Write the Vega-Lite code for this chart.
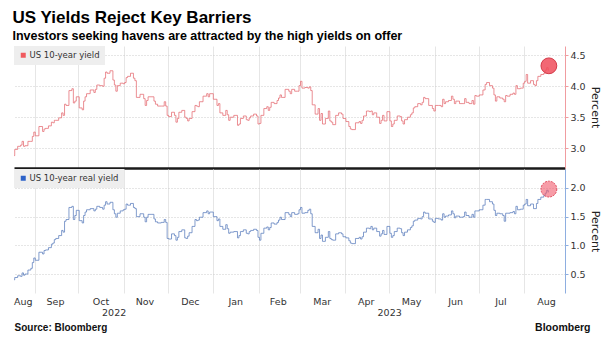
{
  "$schema": "https://vega.github.io/schema/vega-lite/v6.json",
  "background": "white",
  "padding": {"top": 8, "left": 12, "right": 0, "bottom": 0},
  "title": {
    "text": "US Yields Reject Key Barriers",
    "subtitle": "Investors seeking havens are attracted by the high yields on offer",
    "anchor": "start",
    "font": "Liberation Sans",
    "fontSize": 17,
    "fontWeight": "bold",
    "color": "#000000",
    "subtitleFont": "Liberation Sans",
    "subtitleFontSize": 12.5,
    "subtitleFontWeight": "bold",
    "subtitleColor": "#000000",
    "subtitlePadding": 3,
    "offset": 3
  },
  "datasets": {
    "last": [{"d": "2023/08/18", "y": 4.33, "r": 1.98}],
    "yields": [
      {"d":"2022/08/18","y":2.88,"r":0.40},{"d":"2022/08/19","y":2.98,"r":0.44},{"d":"2022/08/22","y":3.03,"r":0.47},{"d":"2022/08/23","y":3.05,"r":0.46},{"d":"2022/08/24","y":3.11,"r":0.52},{"d":"2022/08/25","y":3.03,"r":0.48},{"d":"2022/08/26","y":3.04,"r":0.50},{"d":"2022/08/29","y":3.11,"r":0.57},{"d":"2022/08/30","y":3.11,"r":0.60},{"d":"2022/08/31","y":3.19,"r":0.70},
      {"d":"2022/09/01","y":3.26,"r":0.78},{"d":"2022/09/02","y":3.20,"r":0.74},{"d":"2022/09/06","y":3.35,"r":0.88},{"d":"2022/09/07","y":3.27,"r":0.85},{"d":"2022/09/08","y":3.31,"r":0.91},{"d":"2022/09/09","y":3.32,"r":0.92},{"d":"2022/09/12","y":3.36,"r":0.96},{"d":"2022/09/13","y":3.42,"r":1.02},{"d":"2022/09/14","y":3.41,"r":1.04},{"d":"2022/09/15","y":3.45,"r":1.10},{"d":"2022/09/16","y":3.45,"r":1.12},{"d":"2022/09/19","y":3.49,"r":1.17},{"d":"2022/09/20","y":3.57,"r":1.26},{"d":"2022/09/21","y":3.53,"r":1.23},{"d":"2022/09/22","y":3.71,"r":1.42},{"d":"2022/09/23","y":3.69,"r":1.45},{"d":"2022/09/26","y":3.93,"r":1.66},{"d":"2022/09/27","y":3.96,"r":1.68},{"d":"2022/09/28","y":3.73,"r":1.45},{"d":"2022/09/29","y":3.76,"r":1.52},{"d":"2022/09/30","y":3.83,"r":1.61},
      {"d":"2022/10/03","y":3.65,"r":1.43},{"d":"2022/10/04","y":3.62,"r":1.39},{"d":"2022/10/05","y":3.76,"r":1.52},{"d":"2022/10/06","y":3.83,"r":1.58},{"d":"2022/10/07","y":3.88,"r":1.62},{"d":"2022/10/11","y":3.94,"r":1.64},{"d":"2022/10/12","y":3.90,"r":1.60},{"d":"2022/10/13","y":3.95,"r":1.63},{"d":"2022/10/14","y":4.02,"r":1.68},{"d":"2022/10/17","y":4.01,"r":1.66},{"d":"2022/10/18","y":4.00,"r":1.63},{"d":"2022/10/19","y":4.13,"r":1.70},{"d":"2022/10/20","y":4.23,"r":1.76},{"d":"2022/10/21","y":4.21,"r":1.72},{"d":"2022/10/24","y":4.25,"r":1.75},{"d":"2022/10/25","y":4.10,"r":1.62},{"d":"2022/10/26","y":4.02,"r":1.55},{"d":"2022/10/27","y":3.92,"r":1.49},{"d":"2022/10/28","y":4.01,"r":1.56},{"d":"2022/10/31","y":4.05,"r":1.60},
      {"d":"2022/11/01","y":4.04,"r":1.62},{"d":"2022/11/02","y":4.06,"r":1.63},{"d":"2022/11/03","y":4.14,"r":1.72},{"d":"2022/11/04","y":4.16,"r":1.70},{"d":"2022/11/07","y":4.21,"r":1.73},{"d":"2022/11/08","y":4.13,"r":1.66},{"d":"2022/11/09","y":4.09,"r":1.64},{"d":"2022/11/10","y":3.82,"r":1.50},{"d":"2022/11/14","y":3.87,"r":1.55},{"d":"2022/11/15","y":3.80,"r":1.49},{"d":"2022/11/16","y":3.69,"r":1.41},{"d":"2022/11/17","y":3.77,"r":1.49},{"d":"2022/11/18","y":3.83,"r":1.54},{"d":"2022/11/21","y":3.83,"r":1.54},{"d":"2022/11/22","y":3.76,"r":1.46},{"d":"2022/11/23","y":3.71,"r":1.41},{"d":"2022/11/25","y":3.68,"r":1.39},{"d":"2022/11/28","y":3.68,"r":1.40},{"d":"2022/11/29","y":3.75,"r":1.45},{"d":"2022/11/30","y":3.68,"r":1.40},
      {"d":"2022/12/01","y":3.53,"r":1.12},{"d":"2022/12/02","y":3.51,"r":1.11},{"d":"2022/12/05","y":3.58,"r":1.20},{"d":"2022/12/06","y":3.53,"r":1.17},{"d":"2022/12/07","y":3.42,"r":1.09},{"d":"2022/12/08","y":3.48,"r":1.14},{"d":"2022/12/09","y":3.58,"r":1.24},{"d":"2022/12/12","y":3.61,"r":1.27},{"d":"2022/12/13","y":3.50,"r":1.13},{"d":"2022/12/14","y":3.48,"r":1.12},{"d":"2022/12/15","y":3.44,"r":1.16},{"d":"2022/12/16","y":3.48,"r":1.22},{"d":"2022/12/19","y":3.59,"r":1.33},{"d":"2022/12/20","y":3.69,"r":1.45},{"d":"2022/12/21","y":3.68,"r":1.43},{"d":"2022/12/22","y":3.67,"r":1.44},{"d":"2022/12/23","y":3.75,"r":1.49},{"d":"2022/12/27","y":3.84,"r":1.57},{"d":"2022/12/28","y":3.88,"r":1.60},{"d":"2022/12/29","y":3.83,"r":1.55},{"d":"2022/12/30","y":3.88,"r":1.58},
      {"d":"2023/01/03","y":3.79,"r":1.50},{"d":"2023/01/04","y":3.69,"r":1.43},{"d":"2023/01/05","y":3.72,"r":1.46},{"d":"2023/01/06","y":3.57,"r":1.33},{"d":"2023/01/09","y":3.53,"r":1.28},{"d":"2023/01/10","y":3.61,"r":1.36},{"d":"2023/01/11","y":3.54,"r":1.29},{"d":"2023/01/12","y":3.45,"r":1.21},{"d":"2023/01/13","y":3.50,"r":1.23},{"d":"2023/01/17","y":3.53,"r":1.24},{"d":"2023/01/18","y":3.37,"r":1.13},{"d":"2023/01/19","y":3.39,"r":1.17},{"d":"2023/01/20","y":3.48,"r":1.24},{"d":"2023/01/23","y":3.52,"r":1.27},{"d":"2023/01/24","y":3.46,"r":1.21},{"d":"2023/01/25","y":3.45,"r":1.20},{"d":"2023/01/26","y":3.49,"r":1.24},{"d":"2023/01/27","y":3.52,"r":1.26},{"d":"2023/01/30","y":3.55,"r":1.28},{"d":"2023/01/31","y":3.52,"r":1.26},
      {"d":"2023/02/01","y":3.39,"r":1.14},{"d":"2023/02/02","y":3.40,"r":1.09},{"d":"2023/02/03","y":3.53,"r":1.21},{"d":"2023/02/06","y":3.64,"r":1.30},{"d":"2023/02/07","y":3.67,"r":1.32},{"d":"2023/02/08","y":3.61,"r":1.27},{"d":"2023/02/09","y":3.66,"r":1.31},{"d":"2023/02/10","y":3.74,"r":1.39},{"d":"2023/02/13","y":3.72,"r":1.37},{"d":"2023/02/14","y":3.77,"r":1.40},{"d":"2023/02/15","y":3.81,"r":1.44},{"d":"2023/02/16","y":3.86,"r":1.49},{"d":"2023/02/17","y":3.82,"r":1.45},{"d":"2023/02/21","y":3.95,"r":1.57},{"d":"2023/02/22","y":3.92,"r":1.54},{"d":"2023/02/23","y":3.88,"r":1.50},{"d":"2023/02/24","y":3.95,"r":1.57},{"d":"2023/02/27","y":3.92,"r":1.54},{"d":"2023/02/28","y":3.92,"r":1.55},
      {"d":"2023/03/01","y":4.01,"r":1.62},{"d":"2023/03/02","y":4.08,"r":1.66},{"d":"2023/03/03","y":3.97,"r":1.56},{"d":"2023/03/06","y":3.98,"r":1.57},{"d":"2023/03/07","y":3.97,"r":1.61},{"d":"2023/03/08","y":3.99,"r":1.63},{"d":"2023/03/09","y":3.93,"r":1.55},{"d":"2023/03/10","y":3.70,"r":1.33},{"d":"2023/03/13","y":3.55,"r":1.22},{"d":"2023/03/14","y":3.64,"r":1.28},{"d":"2023/03/15","y":3.45,"r":1.12},{"d":"2023/03/16","y":3.56,"r":1.18},{"d":"2023/03/17","y":3.39,"r":1.07},{"d":"2023/03/20","y":3.48,"r":1.14},{"d":"2023/03/21","y":3.60,"r":1.24},{"d":"2023/03/22","y":3.44,"r":1.12},{"d":"2023/03/23","y":3.42,"r":1.10},{"d":"2023/03/24","y":3.38,"r":1.09},{"d":"2023/03/27","y":3.53,"r":1.20},{"d":"2023/03/28","y":3.57,"r":1.22},{"d":"2023/03/29","y":3.57,"r":1.22},{"d":"2023/03/30","y":3.55,"r":1.20},{"d":"2023/03/31","y":3.48,"r":1.15},
      {"d":"2023/04/03","y":3.43,"r":1.13},{"d":"2023/04/04","y":3.35,"r":1.08},{"d":"2023/04/05","y":3.31,"r":1.04},{"d":"2023/04/06","y":3.30,"r":1.03},{"d":"2023/04/10","y":3.41,"r":1.12},{"d":"2023/04/11","y":3.43,"r":1.14},{"d":"2023/04/12","y":3.40,"r":1.11},{"d":"2023/04/13","y":3.45,"r":1.15},{"d":"2023/04/14","y":3.52,"r":1.23},{"d":"2023/04/17","y":3.60,"r":1.30},{"d":"2023/04/18","y":3.59,"r":1.29},{"d":"2023/04/19","y":3.60,"r":1.33},{"d":"2023/04/20","y":3.54,"r":1.27},{"d":"2023/04/21","y":3.57,"r":1.30},{"d":"2023/04/24","y":3.50,"r":1.24},{"d":"2023/04/25","y":3.40,"r":1.16},{"d":"2023/04/26","y":3.45,"r":1.20},{"d":"2023/04/27","y":3.53,"r":1.26},{"d":"2023/04/28","y":3.44,"r":1.19},
      {"d":"2023/05/01","y":3.59,"r":1.33},{"d":"2023/05/02","y":3.44,"r":1.21},{"d":"2023/05/03","y":3.35,"r":1.14},{"d":"2023/05/04","y":3.39,"r":1.17},{"d":"2023/05/05","y":3.45,"r":1.24},{"d":"2023/05/08","y":3.52,"r":1.30},{"d":"2023/05/09","y":3.51,"r":1.29},{"d":"2023/05/10","y":3.44,"r":1.22},{"d":"2023/05/11","y":3.39,"r":1.17},{"d":"2023/05/12","y":3.46,"r":1.23},{"d":"2023/05/15","y":3.50,"r":1.27},{"d":"2023/05/16","y":3.54,"r":1.31},{"d":"2023/05/17","y":3.57,"r":1.34},{"d":"2023/05/18","y":3.65,"r":1.42},{"d":"2023/05/19","y":3.67,"r":1.44},{"d":"2023/05/22","y":3.72,"r":1.47},{"d":"2023/05/23","y":3.70,"r":1.46},{"d":"2023/05/24","y":3.74,"r":1.50},{"d":"2023/05/25","y":3.82,"r":1.58},{"d":"2023/05/26","y":3.80,"r":1.56},{"d":"2023/05/30","y":3.69,"r":1.46},{"d":"2023/05/31","y":3.64,"r":1.42},
      {"d":"2023/06/01","y":3.60,"r":1.40},{"d":"2023/06/02","y":3.69,"r":1.47},{"d":"2023/06/05","y":3.69,"r":1.46},{"d":"2023/06/06","y":3.67,"r":1.44},{"d":"2023/06/07","y":3.79,"r":1.55},{"d":"2023/06/08","y":3.72,"r":1.49},{"d":"2023/06/09","y":3.75,"r":1.51},{"d":"2023/06/12","y":3.77,"r":1.53},{"d":"2023/06/13","y":3.84,"r":1.60},{"d":"2023/06/14","y":3.79,"r":1.55},{"d":"2023/06/15","y":3.72,"r":1.48},{"d":"2023/06/16","y":3.76,"r":1.51},{"d":"2023/06/20","y":3.72,"r":1.49},{"d":"2023/06/21","y":3.72,"r":1.50},{"d":"2023/06/22","y":3.80,"r":1.58},{"d":"2023/06/23","y":3.74,"r":1.52},{"d":"2023/06/26","y":3.72,"r":1.49},{"d":"2023/06/27","y":3.77,"r":1.54},{"d":"2023/06/28","y":3.71,"r":1.49},{"d":"2023/06/29","y":3.85,"r":1.60},{"d":"2023/06/30","y":3.84,"r":1.60},
      {"d":"2023/07/03","y":3.86,"r":1.62},{"d":"2023/07/05","y":3.94,"r":1.70},{"d":"2023/07/06","y":4.03,"r":1.80},{"d":"2023/07/07","y":4.06,"r":1.80},{"d":"2023/07/10","y":4.01,"r":1.76},{"d":"2023/07/11","y":3.97,"r":1.72},{"d":"2023/07/12","y":3.86,"r":1.61},{"d":"2023/07/13","y":3.76,"r":1.52},{"d":"2023/07/14","y":3.83,"r":1.56},{"d":"2023/07/17","y":3.81,"r":1.55},{"d":"2023/07/18","y":3.79,"r":1.52},{"d":"2023/07/19","y":3.75,"r":1.42},{"d":"2023/07/20","y":3.85,"r":1.56},{"d":"2023/07/21","y":3.84,"r":1.56},{"d":"2023/07/24","y":3.87,"r":1.57},{"d":"2023/07/25","y":3.89,"r":1.59},{"d":"2023/07/26","y":3.87,"r":1.55},{"d":"2023/07/27","y":4.01,"r":1.68},{"d":"2023/07/28","y":3.96,"r":1.62},{"d":"2023/07/31","y":3.97,"r":1.63},
      {"d":"2023/08/01","y":4.05,"r":1.70},{"d":"2023/08/02","y":4.08,"r":1.72},{"d":"2023/08/03","y":4.19,"r":1.80},{"d":"2023/08/04","y":4.05,"r":1.69},{"d":"2023/08/07","y":4.09,"r":1.72},{"d":"2023/08/08","y":4.03,"r":1.64},{"d":"2023/08/09","y":4.01,"r":1.64},{"d":"2023/08/10","y":4.09,"r":1.73},{"d":"2023/08/11","y":4.16,"r":1.80},{"d":"2023/08/14","y":4.19,"r":1.84},{"d":"2023/08/15","y":4.21,"r":1.87},{"d":"2023/08/16","y":4.26,"r":1.91},{"d":"2023/08/17","y":4.30,"r":1.96},{"d":"2023/08/18","y":4.26,"r":1.93}
    ]
  },
  "spacing": 1,
  "resolve": {"scale": {"x": "independent", "color": "independent"}, "legend": {"color": "independent"}},
  "vconcat": [
    {
      "width": 551,
      "height": 122,
      "layer": [
        {
          "data": {"name": "yields"},
          "mark": {"type": "line", "interpolate": "step", "strokeWidth": 0.75},
          "encoding": {
            "x": {
              "field": "d", "type": "temporal",
              "scale": {"domain": [{"year": 2022, "month": 8, "date": 18}, {"year": 2023, "month": 8, "date": 29}], "nice": false},
              "axis": {
                "orient": "bottom", "title": null, "labels": false, "ticks": false,
                "domain": true, "domainColor": "#1a1a1a", "domainWidth": 2.5,
                "grid": true, "gridColor": "#e6e6e6", "gridWidth": 1,
                "values": [{"year":2022,"month":9,"date":1},{"year":2022,"month":10,"date":1},{"year":2022,"month":11,"date":1},{"year":2022,"month":12,"date":1},{"year":2023,"month":1,"date":1},{"year":2023,"month":2,"date":1},{"year":2023,"month":3,"date":1},{"year":2023,"month":4,"date":1},{"year":2023,"month":5,"date":1},{"year":2023,"month":6,"date":1},{"year":2023,"month":7,"date":1},{"year":2023,"month":8,"date":1}]
              }
            },
            "y": {
              "field": "y", "type": "quantitative",
              "scale": {"domain": [2.68, 4.65], "nice": false, "zero": false},
              "axis": {
                "orient": "right", "values": [3, 3.5, 4, 4.5], "format": ".1f",
                "grid": true, "gridColor": "#cccccc", "gridDash": [1, 2],
                "domainColor": "#f09ca0", "tickColor": "#f09ca0", "tickSize": 3,
                "labelFont": "DejaVu Sans", "labelFontSize": 9.5, "labelColor": "#333333", "labelPadding": 2,
                "title": "Percent", "titleFont": "DejaVu Sans", "titleFontSize": 11, "titleFontWeight": "normal", "titleColor": "#222222", "titlePadding": 4
              }
            },
            "color": {
              "datum": "US 10-year yield",
              "scale": {"range": ["#e46a70"]},
              "legend": {
                "orient": "top-left", "offset": 0, "title": null, "fillColor": "#eeeeee", "padding": 5,
                "symbolType": "square", "symbolSize": 25, "symbolFillColor": "#f05a5e", "symbolStrokeColor": "#f05a5e", "symbolStrokeWidth": 0,
                "labelFont": "DejaVu Sans", "labelFontSize": 8.5, "labelColor": "#333333", "labelOffset": 2
              }
            }
          }
        },
        {
          "data": {"name": "last"},
          "mark": {"type": "circle", "size": 250, "fill": "#f04d5c", "fillOpacity": 0.85, "stroke": "#d33a48", "strokeWidth": 1},
          "encoding": {
            "x": {"field": "d", "type": "temporal"},
            "y": {"field": "y", "type": "quantitative"}
          }
        }
      ]
    },
    {
      "width": 551,
      "height": 124,
      "resolve": {"axis": {"x": "independent"}},
      "layer": [
        {
          "data": {"name": "yields"},
          "mark": {"type": "line", "interpolate": "step", "strokeWidth": 0.75},
          "encoding": {
            "x": {
              "field": "d", "type": "temporal",
              "scale": {"domain": [{"year": 2022, "month": 8, "date": 18}, {"year": 2023, "month": 8, "date": 29}], "nice": false},
              "axis": {
                "orient": "bottom", "labels": false, "ticks": false, "domain": false,
                "grid": true, "gridColor": "#e6e6e6", "gridWidth": 1,
                "values": [{"year":2022,"month":9,"date":1},{"year":2022,"month":10,"date":1},{"year":2022,"month":11,"date":1},{"year":2022,"month":12,"date":1},{"year":2023,"month":1,"date":1},{"year":2023,"month":2,"date":1},{"year":2023,"month":3,"date":1},{"year":2023,"month":4,"date":1},{"year":2023,"month":5,"date":1},{"year":2023,"month":6,"date":1},{"year":2023,"month":7,"date":1},{"year":2023,"month":8,"date":1}],
                "title": "Bloomberg", "titleX": 576, "titleY": 37, "titleAlign": "right", "titleBaseline": "alphabetic", "titleAngle": 0,
                "titleFont": "Liberation Sans", "titleFontSize": 10.5, "titleFontWeight": "bold", "titleColor": "#111111"
              }
            },
            "y": {
              "field": "r", "type": "quantitative",
              "scale": {"domain": [0.17, 2.33], "nice": false, "zero": false},
              "axis": {
                "orient": "right", "values": [0.5, 1, 1.5, 2], "format": ".1f",
                "grid": true, "gridColor": "#cccccc", "gridDash": [1, 2],
                "domainColor": "#8eaee0", "tickColor": "#8eaee0", "tickSize": 3,
                "labelFont": "DejaVu Sans", "labelFontSize": 9.5, "labelColor": "#333333", "labelPadding": 2,
                "title": "Percent", "titleFont": "DejaVu Sans", "titleFontSize": 11, "titleFontWeight": "normal", "titleColor": "#222222", "titlePadding": 4
              }
            },
            "color": {
              "datum": "US 10-year real yield",
              "scale": {"range": ["#5a7cbc"]},
              "legend": {
                "orient": "top-left", "offset": 0, "title": null, "fillColor": "#eeeeee", "padding": 5,
                "symbolType": "square", "symbolSize": 25, "symbolFillColor": "#2d62c8", "symbolStrokeColor": "#2d62c8", "symbolStrokeWidth": 0,
                "labelFont": "DejaVu Sans", "labelFontSize": 8.5, "labelColor": "#333333", "labelOffset": 2
              }
            }
          }
        },
        {
          "data": {"name": "last"},
          "mark": {"type": "circle", "size": 250, "fill": "#f25a6c", "fillOpacity": 0.6, "stroke": "#e04a5c", "strokeWidth": 1, "strokeDash": [2, 1]},
          "encoding": {
            "x": {
              "field": "d", "type": "temporal",
              "axis": {
                "orient": "bottom", "grid": false, "ticks": false, "domain": false,
                "values": [{"year":2022,"month":8,"date":24},{"year":2022,"month":9,"date":15},{"year":2022,"month":10,"date":16},{"year":2022,"month":10,"date":25},{"year":2022,"month":11,"date":15},{"year":2022,"month":12,"date":16},{"year":2023,"month":1,"date":16},{"year":2023,"month":2,"date":14},{"year":2023,"month":3,"date":16},{"year":2023,"month":4,"date":15},{"year":2023,"month":5,"date":1},{"year":2023,"month":5,"date":16},{"year":2023,"month":6,"date":15},{"year":2023,"month":7,"date":16},{"year":2023,"month":8,"date":16}],
                "labelExpr": "date(datum.value) == 25 || date(datum.value) == 1 ? ['', timeFormat(datum.value, '%Y')] : timeFormat(datum.value, '%b')",
                "labelFont": "DejaVu Sans", "labelFontSize": 9.5, "labelColor": "#333333", "labelPadding": 3,
                "labelBaseline": "top", "labelLineHeight": 11, "labelOverlap": false, "labelFlush": false, "labelBound": false,
                "title": "Source: Bloomberg", "titleX": 0, "titleY": 37, "titleAlign": "left", "titleBaseline": "alphabetic", "titleAngle": 0,
                "titleFont": "Liberation Sans", "titleFontSize": 10, "titleFontWeight": "bold", "titleColor": "#111111"
              }
            },
            "y": {"field": "r", "type": "quantitative"}
          }
        }
      ]
    }
  ],
  "config": {
    "view": {"stroke": null}
  }
}
